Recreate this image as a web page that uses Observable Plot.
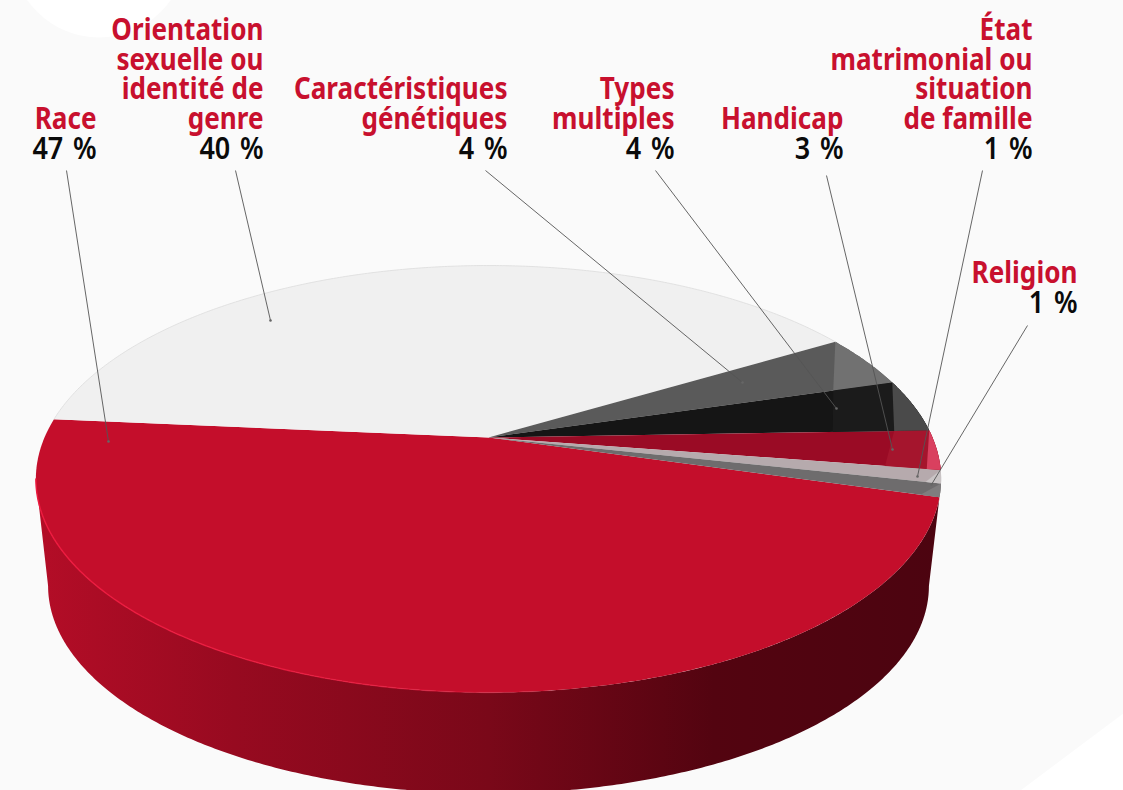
<!DOCTYPE html>
<html lang="fr">
<head>
<meta charset="utf-8">
<script src="https://cdn.jsdelivr.net/npm/d3@7"></script>
<script src="https://cdn.jsdelivr.net/npm/@observablehq/plot@0.6"></script>
<style>
html,body{margin:0;padding:0;background:#fafafa;}
svg{display:block;}
</style>
</head>
<body>
<div id="chart"></div>
<script>
// --- Data
const categories = ["Race","Orientation sexuelle ou identité de genre","Caractéristiques génétiques","Types multiples","Handicap","État matrimonial ou situation de famille","Religion"];
const values = [47,40,4,4,3,1,1];
const labelLines = [
  ["Race"],
  ["Orientation","sexuelle ou","identité de","genre"],
  ["Caractéristiques","génétiques"],
  ["Types","multiples"],
  ["Handicap"],
  ["État","matrimonial ou","situation","de famille"],
  ["Religion"]
];

// --- Layout / style (separate from the data)
const sliceColors = ["#c40e2b","#f0f0f0","#5a5a5a","#151515","#9a0b25","#b6aaad","#6e6c6d"];
const facets = [ // rim-lit facets of the small slices: [slice, start radial fraction, end radial fraction, colour]
  [2,1.00,0.847,"#717171"],
  [3,0.847,0.78,"#1b1b1b"],
  [3,1.00,0.92,"#4a4a4a"],
  [4,0.92,0.88,"#a5152d"],
  [4,1.00,0.97,"#d9405f"],
  [5,1.00,0.967,"#c9c4c5"],
  [6,1.00,0.96,"#7f7d7e"]
];
const labelRight = [96,263,507,674,843,1032,1077];
const labelPercentBase = [158,158,158,158,158,158,312.5];
const leaderFromX = [66,235,485,655,826,982,1027];
const leaderFromY = [170,170,170,170,175,170,325];
const leaderToX = [108,270,742,836,892,917,931];
const leaderToY = [441,320,382,408,449,476,484];
const lineStep = 29.6;
const startAngle = 16;               // degrees, clockwise from the right
const apexX = 488, apexY = 437;      // pie centre on screen
const pieA = 444, pieB = 205.4, pieP = 0.1944; // perspective disc
const lowerScale = 0.973, lowerDrop = 108;     // bottom face of the extrusion

// --- Geometry: every shape below comes from values through this projection
const rad = d => d * Math.PI / 180;
function project(angle, r = 1, lower = false) {
  const u = r * Math.cos(rad(angle)), v = r * Math.sin(rad(angle));
  const w = 1 - pieP * v, s = lower ? lowerScale : 1;
  return {x: apexX + s * pieA * u / w, y: apexY + (lower ? lowerDrop : 0) + s * pieB * v / w};
}
function arc(a0, a1, r = 1, lower = false) {
  const n = Math.max(2, Math.ceil(Math.abs(a1 - a0) * 2));
  return d3.range(n + 1).map(i => project(a0 + (a1 - a0) * i / n, r, lower));
}
const total = d3.sum(values);
let acc = startAngle;
const slices = values.map((v, i) => {
  const a0 = acc; acc += v / total * 360;
  return {i, a0, a1: acc};
});
const topFaces = slices.map(s => ({color: sliceColors[s.i], points: [project(0, 0), ...arc(s.a0, s.a1)]}));
const facetFaces = facets.map(([i, f0, f1, color]) => {
  const s = slices[i];
  return {color, points: [project(s.a0, f0), ...arc(s.a0, s.a1), project(s.a1, f1)]};
});
const extremeAngle = Math.asin(pieP) * 180 / Math.PI;
const race = slices[0];
const sidePoints = [...arc(race.a0, 180 - extremeAngle), ...arc(180 - extremeAngle, extremeAngle, 1, true)];
const rimPoints = arc(180 - extremeAngle, 80);
const orientationRim = arc(slices[1].a0, slices[1].a1);

// --- Labels, one entry per text line
const textLines = [];
labelLines.forEach((lines, i) => {
  const base = labelPercentBase[i];
  lines.forEach((t, j) => textLines.push({
    text: t, x: labelRight[i], y: base - lineStep * (lines.length - j), kind: "name"
  }));
  textLines.push({text: `${values[i]} %`, x: labelRight[i], y: base, kind: "value"});
});
const leaders = categories.map((c, i) => ({x1: leaderFromX[i], y1: leaderFromY[i], x2: leaderToX[i], y2: leaderToY[i]}));

// --- Decorative background shapes
const whiteCorner = [{x:1123,y:713},{x:1020,y:790},{x:1123,y:790}];
const whiteBlob = [{x:98.5,y:-50.6}];

const squeeze = (k, spacing = 0) => (index, scales, vals, dims, ctx, next) => {
  const g = next(index, scales, vals, dims, ctx);
  g.querySelectorAll("text").forEach(t => {
    t.setAttribute("transform", (t.getAttribute("transform") || "") + ` scale(${k},1)`);
    if (spacing) t.style.wordSpacing = `${spacing}px`;
  });
  return g;
};
const defs = () => {
  const g = document.createElementNS("http://www.w3.org/2000/svg", "g");
  g.innerHTML = `<defs>
    <linearGradient id="side" x1="0" x2="1" y1="0" y2="0">
      <stop offset="0" stop-color="#b40d27"/><stop offset="0.22" stop-color="#970a20"/>
      <stop offset="0.5" stop-color="#7a0819"/><stop offset="0.75" stop-color="#530410"/>
      <stop offset="1" stop-color="#4c0410"/>
    </linearGradient>
    <linearGradient id="rim" x1="0" x2="1" y1="0" y2="0">
      <stop offset="0" stop-color="#ee1a3f" stop-opacity="1"/><stop offset="0.6" stop-color="#ee1a3f" stop-opacity="0.75"/>
      <stop offset="1" stop-color="#ee1a3f" stop-opacity="0"/>
    </linearGradient>
  </defs>`;
  return g;
};
const face = (pts, fill) => Plot.line(pts, {x: "x", y: "y", fill, stroke: "none"});
const font = "'Noto Sans', sans-serif";

const chart = Plot.plot({
  width: 1123, height: 790,
  margin: 0,
  x: {domain: [0, 1123], range: [0, 1123], axis: null},
  y: {domain: [0, 790], range: [0, 790], axis: null},
  style: {background: "#fafafa", overflow: "hidden"},
  marks: [
    defs,
    Plot.dot(whiteBlob, {x: "x", y: "y", r: 87.6, fill: "white", stroke: "none"}),
    face(whiteCorner, "white"),
    face(sidePoints, "url(#side)"),
    ...topFaces.map(f => face(f.points, f.color)),
    ...facetFaces.map(f => face(f.points, f.color)),
    Plot.line(orientationRim, {x: "x", y: "y", stroke: "#dcdcdc", strokeWidth: 0.8}),
    Plot.line(rimPoints, {x: "x", y: "y", stroke: "url(#rim)", strokeWidth: 1.4}),
    Plot.link(leaders, {x1: "x1", y1: "y1", x2: "x2", y2: "y2", stroke: "#555", strokeWidth: 0.9}),
    Plot.dot(leaders, {x: "x2", y: "y2", r: 1.3, fill: "#666", stroke: "none"}),
    Plot.text(textLines.filter(d => d.kind === "name"), {
      x: "x", y: "y", text: "text", textAnchor: "end", lineAnchor: "bottom",
      fill: "#c8102e", fontSize: 31, fontWeight: 700, fontFamily: font, render: squeeze(0.843)
    }),
    Plot.text(textLines.filter(d => d.kind === "value"), {
      x: "x", y: "y", text: "text", textAnchor: "end", lineAnchor: "bottom",
      fill: "#0a0a0a", fontSize: 31, fontWeight: 600, fontFamily: font, render: squeeze(0.87, 3)
    })
  ]
});
document.getElementById("chart").appendChild(chart);
</script>
</body>
</html>
